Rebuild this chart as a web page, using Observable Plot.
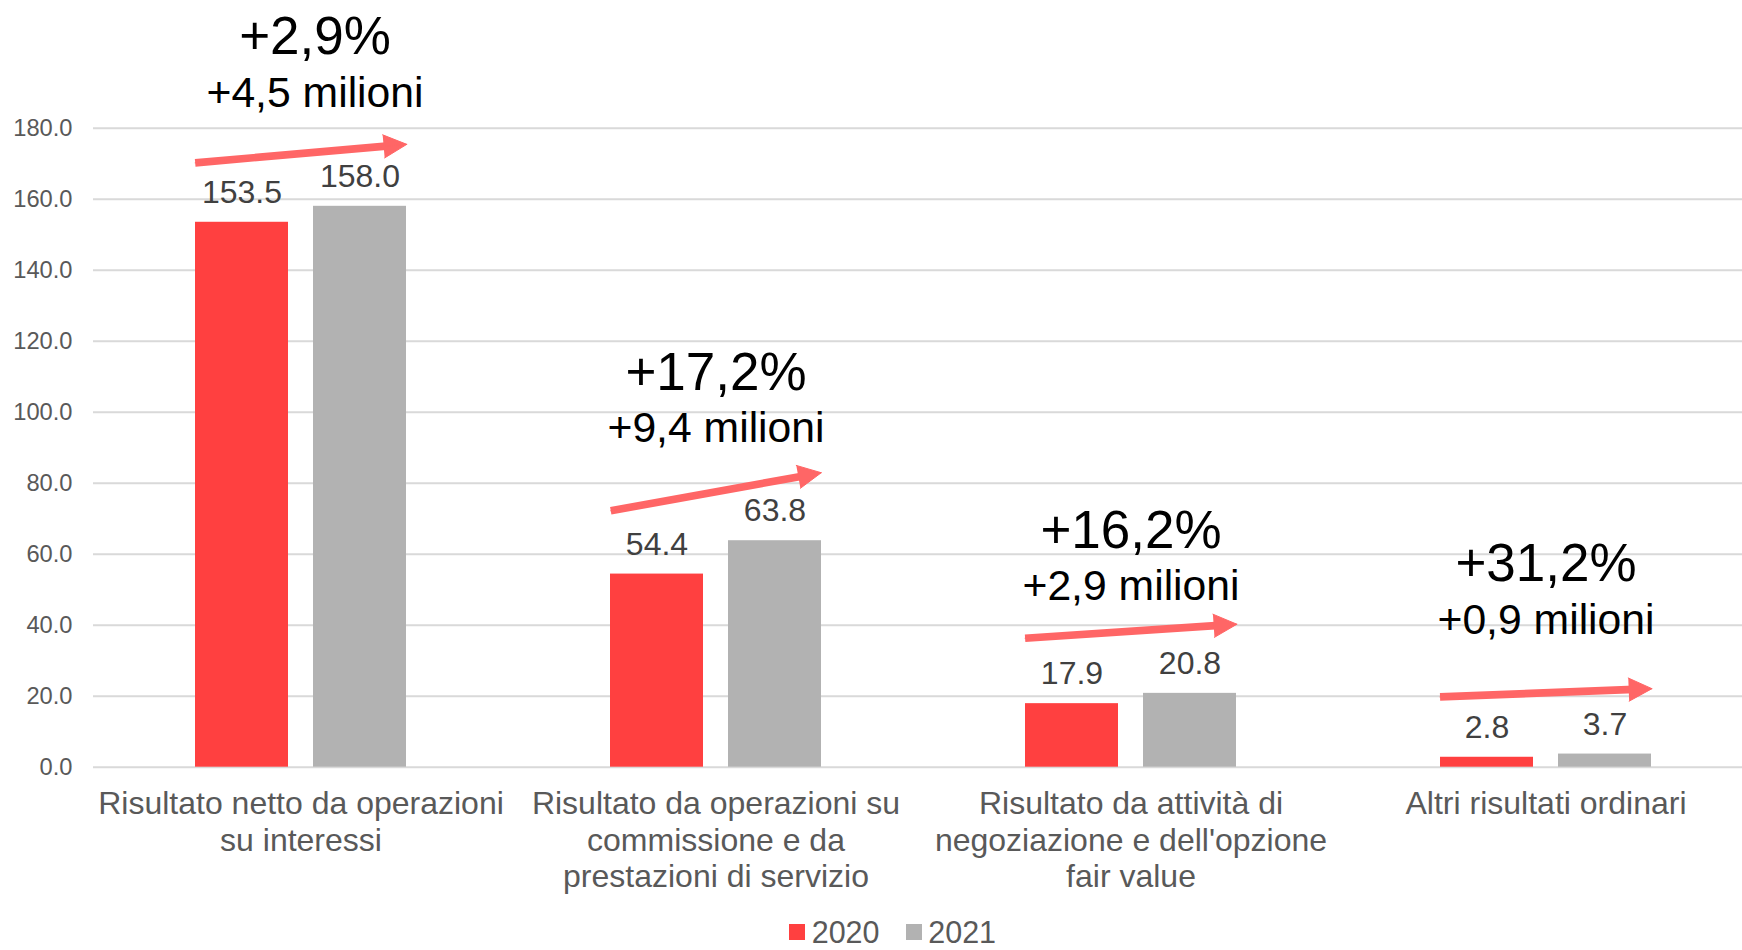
<!DOCTYPE html>
<html>
<head>
<meta charset="utf-8">
<script src="https://cdn.jsdelivr.net/npm/d3@7"></script>
<script src="https://cdn.jsdelivr.net/npm/@observablehq/plot@0.6"></script>
<style>
  html, body { margin: 0; padding: 0; background: #ffffff; overflow: hidden; }
  #chart { width: 1742px; height: 950px; overflow: hidden; }
  #chart svg { display: block; }
  #legend > div {
    display: flex !important; align-items: center !important; justify-content: flex-start !important;
    margin: 0 !important; padding-left: 789px !important; min-height: 0 !important; height: 30px !important;
    line-height: 30px !important;
    font-family: 'Liberation Sans', Arial, Helvetica, sans-serif !important;
    font-size: 30.5px !important; color: #595959 !important;
  }
  #legend span { display: inline-flex !important; align-items: center !important; margin-right: 26px !important; line-height: 30px !important; }
  #legend span > svg { margin-right: 6.7px !important; }
</style>
</head>
<body>
<div id="chart"></div>
<script>
// ---- data ----
const categories = [
  "Risultato netto da operazioni su interessi",
  "Risultato da operazioni su commissione e da prestazioni di servizio",
  "Risultato da attività di negoziazione e dell'opzione fair value",
  "Altri risultati ordinari"
];
const categoryLabels = [
  "Risultato netto da operazioni\nsu interessi",
  "Risultato da operazioni su\ncommissione e da\nprestazioni di servizio",
  "Risultato da attività di\nnegoziazione e dell'opzione\nfair value",
  "Altri risultati ordinari"
];
const years = ["2020", "2021"];
const values2020 = [153.5, 54.4, 17.9, 2.8];
const values2021 = [158.0, 63.8, 20.8, 3.7];
const changePct = ["+2,9%", "+17,2%", "+16,2%", "+31,2%"];
const changeAbs = ["+4,5 milioni", "+9,4 milioni", "+2,9 milioni", "+0,9 milioni"];
// annotation arrows: level (in axis units) above the 2020 and 2021 bars
const arrowAt2020 = [171.4, 74.6, 37.2, 20.3];
const arrowAt2021 = [174.3, 80.6, 39.4, 21.6];
// annotation text level (in axis units)
const noteLevel = [186.1, 91.5, 47.0, 37.6];
const yTicks = [0, 20, 40, 60, 80, 100, 120, 140, 160, 180];

// ---- tables built from the arrays ----
const bars = categories.flatMap((c, i) => [
  {cat: c, year: years[0], value: values2020[i]},
  {cat: c, year: years[1], value: values2021[i]}
]);
const groups = categories.map((c, i) => ({
  cat: c, label: categoryLabels[i], pct: changePct[i], abs: changeAbs[i],
  from: arrowAt2020[i], to: arrowAt2021[i], note: noteLevel[i]
}));

const FONT = "'Liberation Sans', Arial, Helvetica, sans-serif";
const RED = "#ff4040", GRAY = "#b2b2b2", ARROW = "#ff6666";
const fmt = d3.format(".1f");

const first = (d, i) => i === 0;
const rest = (d, i) => i > 0;
const noteAbs = {fx: "cat", y: "note", text: "abs", lineAnchor: "bottom", fontSize: 42.7, fill: "#000000"};
const notePct = {fx: "cat", y: "note", text: "pct", lineAnchor: "bottom", dy: -52.7, fontSize: 53, fill: "#000000"};

const plot = Plot.plot({
  width: 1742,
  height: 917,
  marginLeft: 92,
  marginRight: -12,
  marginTop: 127.7,
  marginBottom: 150.3,
  style: {fontFamily: FONT, background: "white", overflow: "hidden"},
  fx: {domain: categories, padding: 0, axis: null, label: null},
  x: {domain: years, paddingInner: 0.2122, paddingOuter: 0.8625, axis: null},
  y: {domain: [0, 180], axis: null},
  color: {domain: years, range: [RED, GRAY]},
  marks: [
    Plot.ruleY(yTicks, {stroke: "#d9d9d9", strokeWidth: 2}),
    Plot.axisY({ticks: yTicks, tickFormat: fmt, tickSize: 0, tickPadding: 21, fontSize: 23.7, fill: "#595959", label: null}),
    Plot.barY(bars, {fx: "cat", x: "year", y: "value", fill: "year"}),
    Plot.text(bars, {fx: "cat", x: "year", y: "value", text: d => fmt(d.value), lineAnchor: "bottom", dy: -19.5, fontSize: 32, fill: "#404040"}),
    Plot.arrow(groups, {fx: "cat", x1: () => years[0], x2: () => years[1], y1: "from", y2: "to",
      stroke: ARROW, strokeWidth: 7.7, strokeLinecap: "butt", headLength: 0, insetStart: -47, insetEnd: -29}),
    Plot.arrow(groups, {fx: "cat", x1: () => years[0], x2: () => years[1], y1: "from", y2: "to",
      stroke: ARROW, fill: ARROW, strokeWidth: 1, headLength: 39, headAngle: 53, insetStart: -47, insetEnd: -47}),
    Plot.text(groups, {...noteAbs, filter: first, dx: 14}),
    Plot.text(groups, {...noteAbs, filter: rest}),
    Plot.text(groups, {...notePct, filter: first, dx: 14}),
    Plot.text(groups, {...notePct, filter: rest}),
    Plot.text(groups, {fx: "cat", frameAnchor: "bottom", text: "label", lineAnchor: "top", dy: 21, fontSize: 32, lineHeight: 1.14, fill: "#595959"})
  ]
});

const chart = document.getElementById("chart");
chart.appendChild(plot);
const legendWrap = document.createElement("div");
legendWrap.id = "legend";
legendWrap.appendChild(Plot.legend({color: {domain: years, range: [RED, GRAY]}, swatchSize: 16, className: "lg"}));
chart.appendChild(legendWrap);
</script>
</body>
</html>
